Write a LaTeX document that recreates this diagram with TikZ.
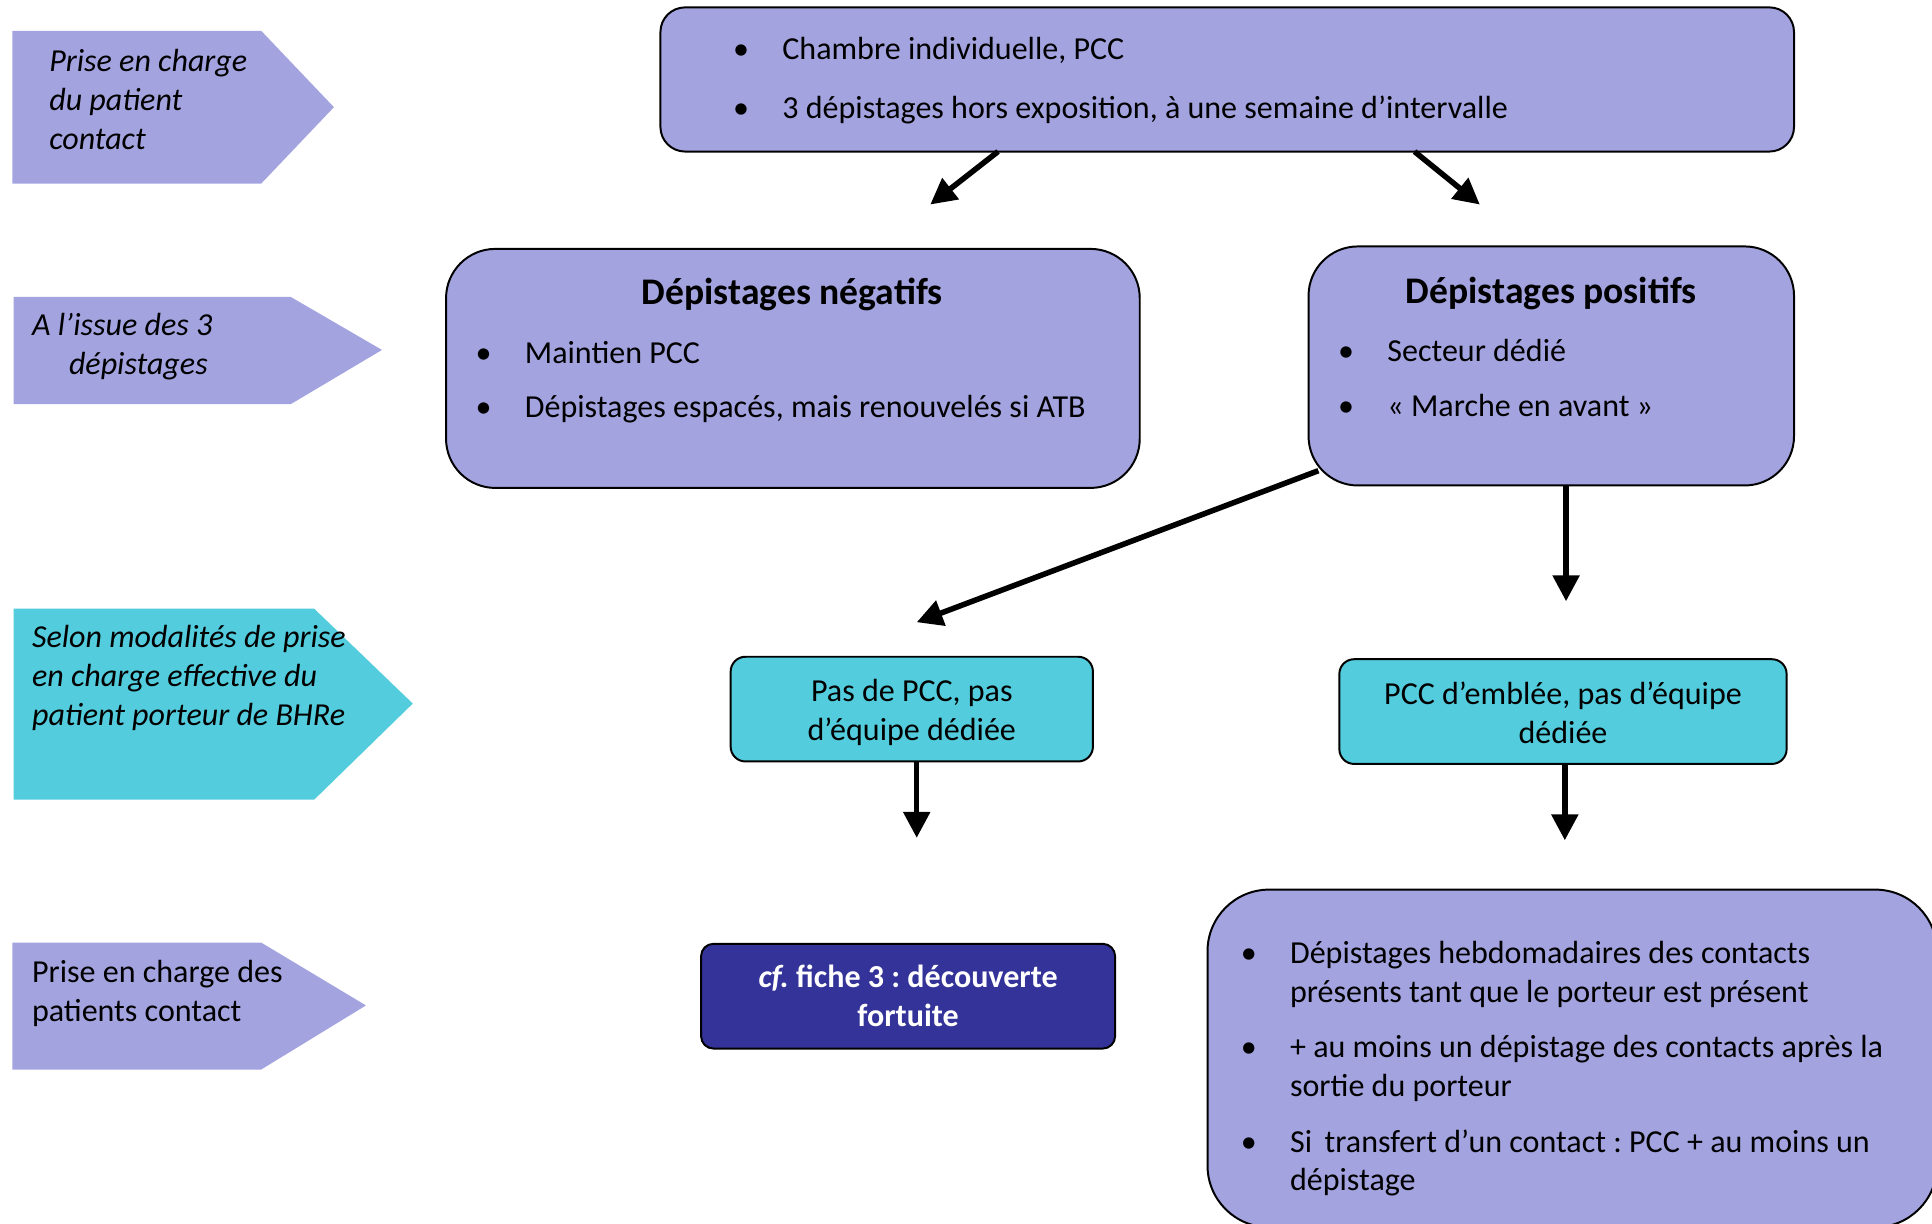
\documentclass[tikz,border=0pt]{standalone}
\usepackage{fontspec}
\setmainfont{Carlito}
\usetikzlibrary{arrows.meta,calc}
\definecolor{lav}{RGB}{163,163,224}
\definecolor{cy}{RGB}{83,204,221}
\definecolor{navy}{RGB}{51,51,153}
\newcommand\bodyf{\fontsize{26}{31.5}\selectfont}
\newcommand\titf{\fontsize{30.5}{36}\selectfont\bfseries}
\newcommand\bul{\makebox[39pt][l]{\hspace{-1pt}•}}
\frenchspacing
\begin{document}
\begin{tikzpicture}[x=1pt,y=-1pt,
  every node/.style={inner sep=0pt, outer sep=0pt},
  box/.style={draw=black, line width=1.6pt, fill=lav, rectangle},
  cbox/.style={box, fill=cy, rounded corners=12pt},
  ctxt/.style={align=center, font=\bodyf},
  lbltxt/.style={align=left, font=\bodyf, anchor=west},
  list/.style={font=\bodyf, anchor=base west},
  arr/.style={line width=4.5pt, -{Triangle[length=21pt,width=21pt]}},
]
\useasboundingbox (0,0) rectangle (1568,993);
\clip (0,0) rectangle (1568,993);

% left labels
\fill[lav] (10,25) -- (212,25) -- (271,87) -- (212,149) -- (10,149) -- cycle;
\fill[lav] (11,241) -- (236,241) -- (310,284) -- (236,328) -- (11,328) -- cycle;
\fill[cy]  (11,494) -- (255,494) -- (335,571) -- (255,649) -- (11,649) -- cycle;
\fill[lav] (10,765) -- (212,765) -- (297,816) -- (212,868) -- (10,868) -- cycle;
\node[lbltxt, font=\bodyf\itshape] (l1) at (40,81) {Prise en charge\\du patient\\contact};
\node[lbltxt, font=\bodyf\itshape] (l2) at (26,281) {A l’issue des 3\\\hspace{30pt}dépistages};
\node[lbltxt, font=\bodyf\itshape] (l3) at (26,550) {Selon modalités de prise\\en charge effective du\\patient porteur de BHRe};
\node[lbltxt] (l4) at (26,806) {Prise en charge des\\patients contact};

% boxes
\node[box, rounded corners=20pt, minimum width=920pt, minimum height=117pt] (A) at (996,64.5) {};
\node[box, rounded corners=40pt, minimum width=563pt, minimum height=194pt] (B) at (643.5,299) {};
\node[box, rounded corners=40pt, minimum width=394pt, minimum height=194pt] (C) at (1259,297) {};
\node[cbox, minimum width=294pt, minimum height=85pt] (D) at (740,575.5) {};
\node[cbox, minimum width=363pt, minimum height=85pt] (E) at (1268.5,577.5) {};
\node[box, fill=navy, rounded corners=10pt, minimum width=336pt, minimum height=85pt, align=center, font=\bodyf\bfseries, text=white] (F) at (737,808.5) {\textit{cf.} fiche 3 : découverte\\fortuite};
\node[box, rounded corners=50pt, minimum width=592pt, minimum height=274pt] (G) at (1276,859) {};

% texts in boxes
\node[ctxt] (Dtxt) at (740,578.5) {Pas de PCC, pas\\d’équipe dédiée};
\node[ctxt] (Etxt) at (1268.5,578.5) {PCC d’emblée, pas d’équipe\\dédiée};
\node[list] (Atxt) at (596,48.5) {\begin{tabular}[t]{@{}l@{}l@{}}
\bul & Chambre individuelle, PCC\\[16pt]
\bul & 3 dépistages hors exposition, à une semaine d’intervalle
\end{tabular}};
\node[font=\titf] (Btit) at (643,239) {Dépistages négatifs};
\node[list] (Btxt) at (387,295) {\begin{tabular}[t]{@{}l@{}l@{}}
\bul & Maintien PCC\\[12.5pt]
\bul & Dépistages espacés, mais renouvelés si ATB
\end{tabular}};
\node[font=\titf] (Ctit) at (1259,238) {Dépistages positifs};
\node[list] (Ctxt) at (1087,293) {\begin{tabular}[t]{@{}l@{}l@{}}
\bul & Secteur dédié\\[13.5pt]
\bul & « Marche en avant »
\end{tabular}};
\node[list] (Gtxt) at (1008,782) {\begin{tabular}[t]{@{}l@{}l@{}}
\bul & Dépistages hebdomadaires des contacts\\
 & présents tant que le porteur est présent\\[13.5pt]
\bul & + au moins un dépistage des contacts après la\\
 & sortie du porteur\\[13.5pt]
\bul & Si\, transfert d’un contact : PCC + au moins un\\
 & dépistage
\end{tabular}};

% connectors
\coordinate (t1) at (755,166);
\coordinate (t2) at (1201,166);
\coordinate (t3) at (744,505);
\coordinate (t4) at (1271,488);
\coordinate (t5) at (744,680);
\coordinate (t6) at (1270,682);
\draw[arr] ($(A.south west)+(274,0)$) -- (t1);
\draw[arr] ($(A.south west)+(612,0)$) -- (t2);
\draw[arr] ($(C.south west)+(8,-12)$) -- (t3);
\draw[arr] ($(C.south)+(12,0)$) -- (t4);
\draw[arr] ($(D.south)+(4,0)$) -- (t5);
\draw[arr] ($(E.south)+(1.5,0)$) -- (t6);
\end{tikzpicture}
\end{document}
